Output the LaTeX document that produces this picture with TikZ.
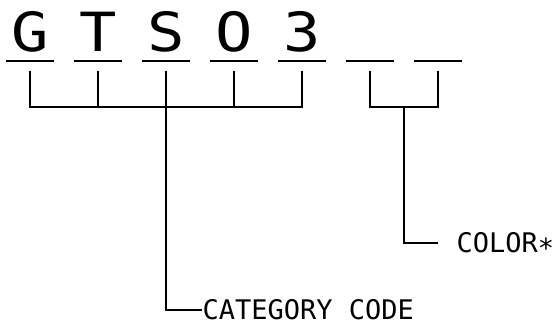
\documentclass[tikz,border=0pt]{standalone}
\usepackage{fontspec}
\usetikzlibrary{positioning,calc}
\newfontfamily\cadfont{DejaVu Sans Mono}

\begin{document}
\begin{tikzpicture}[x=1pt,y=-1pt,line width=1.2pt,
    letter/.style={font=\cadfont\fontsize{54}{60}\selectfont,inner sep=0pt,anchor=base,xscale=1.15},
    slot/.style={inner sep=0pt,minimum width=46pt,minimum height=0pt,anchor=south},
    tag/.style={font=\cadfont\fontsize{27}{30}\selectfont,inner sep=0pt,anchor=west}]
    \useasboundingbox (0,0) rectangle (558,326);

    \foreach \ch [count=\i] in {G,T,S,O,3,{},{}} {
        \node[slot] (s\i) at (\i*68-38,61) {};
        \node[letter] (l\i) at (\i*68-38,52) {\ch};
        \draw (s\i.south west) -- (s\i.south east);
        \coordinate (t\i) at ($(s\i.south)+(0,10)$);
        \coordinate (b\i) at ($(s\i.south)+(0,46)$);
    }

    \node[tag] (cat) [right=2pt of {(200,310)}] {CATEGORY CODE};
    \node[tag] (col) at (456,243) {COLOR∗};
    \coordinate (m) at ($(b6)!0.5!(b7)$);

    \draw (t1) -- (b1) -- (b5) -- (t5);
    \draw (t2) -- (b2) (t3) -- (b3) (t4) -- (b4);
    \draw (b3) |- (cat.west);
    \draw (t6) -- (b6) -- (b7) -- (t7);
    \draw[shorten >=18pt] (m) |- (col.west);
  \end{tikzpicture}
\end{document}
